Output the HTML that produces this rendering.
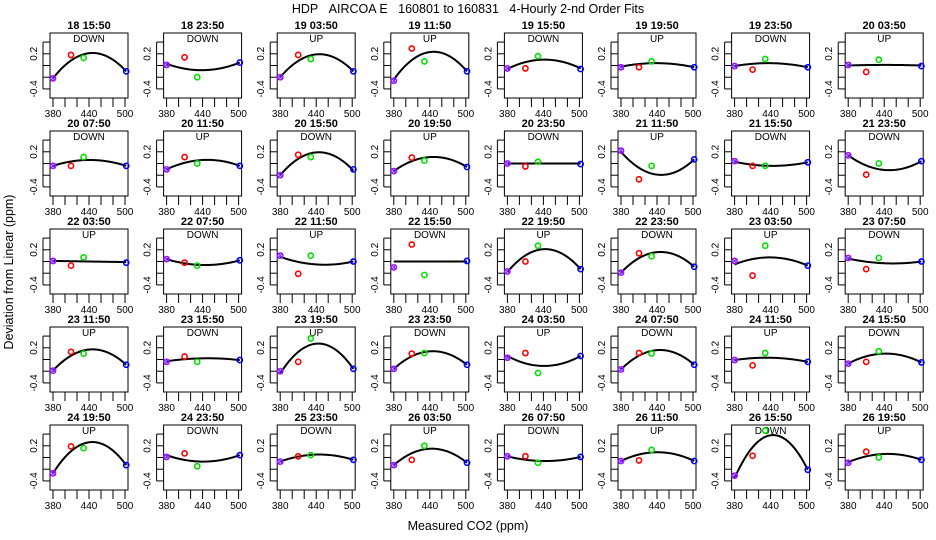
<!DOCTYPE html>
<html><head><meta charset="utf-8"><style>
html,body{margin:0;padding:0;background:#fff;}
svg{display:block;font-family:"Liberation Sans",sans-serif;}
</style></head><body>
<svg id="chart" width="936" height="540" viewBox="0 0 936 540">
<text x="468" y="13" text-anchor="middle" font-size="12.5">HDP&#160;&#160;&#160;AIRCOA E&#160;&#160;&#160;160801 to 160831&#160;&#160;&#160;4-Hourly 2-nd Order Fits</text>
<text x="0" y="0" transform="translate(13,272) rotate(-90)" text-anchor="middle" font-size="12.5">Deviation from Linear (ppm)</text>
<text x="468" y="530" text-anchor="middle" font-size="12.5">Measured CO2 (ppm)</text>
<g id="panels"></g>
</svg>
<script>
const titles = ["18 15:50","18 23:50","19 03:50","19 11:50","19 15:50","19 19:50","19 23:50","20 03:50",
"20 07:50","20 11:50","20 15:50","20 19:50","20 23:50","21 11:50","21 15:50","21 23:50",
"22 03:50","22 07:50","22 11:50","22 15:50","22 19:50","22 23:50","23 03:50","23 07:50",
"23 11:50","23 15:50","23 19:50","23 23:50","24 03:50","24 07:50","24 11:50","24 15:50",
"24 19:50","24 23:50","25 23:50","26 03:50","26 07:50","26 11:50","26 15:50","26 19:50"];
const directions = ["DOWN","DOWN","UP","UP","DOWN","UP","DOWN","UP",
"DOWN","UP","DOWN","UP","DOWN","UP","DOWN","DOWN",
"UP","DOWN","UP","DOWN","UP","DOWN","UP","DOWN",
"UP","DOWN","UP","DOWN","UP","DOWN","UP","DOWN",
"UP","DOWN","DOWN","UP","DOWN","UP","DOWN","UP"];
const co2Levels = [380, 410, 431, 502];
const purpleVals = [-0.22,0.01,-0.2,-0.26,-0.05,-0.03,-0.01,0.01, -0.04,-0.1,-0.2,-0.13,0,0.22,0.04,0.14, 0.01,0.04,0.1,-0.1,-0.17,-0.19,0.01,0.06, -0.19,-0.04,-0.2,-0.16,0.03,-0.17,-0.01,-0.07, -0.27,0.01,-0.07,-0.13,0.02,-0.06,-0.31,-0.09];
const redVals = [0.18,0.14,0.18,0.29,-0.05,-0.03,-0.07,-0.11, -0.04,0.11,0.15,0.1,-0.05,-0.27,-0.04,-0.19, -0.07,-0.02,-0.21,0.29,0,0.14,-0.24,-0.13, 0.13,0.05,-0.04,0.1,0.11,0.11,-0.1,-0.04, 0.19,0.07,0.02,-0.04,0.02,-0.05,0.03,0.1];
const greenVals = [0.13,-0.2,0.11,0.07,0.16,0.07,0.11,0.1, 0.11,0,0.11,0.05,0.03,-0.04,-0.04,0, 0.07,-0.07,0.1,-0.23,0.27,0.09,0.27,0.06, 0.1,-0.04,0.36,0.11,-0.23,0.1,0.11,0.14, 0.16,-0.15,0.04,0.2,-0.09,0.13,0.46,0];
const blueVals = [-0.1,0.05,-0.1,-0.1,-0.06,-0.03,-0.03,-0.01, -0.04,-0.04,-0.1,-0.06,-0.01,0.07,0.02,0.04, -0.02,0.02,0,0.01,-0.13,-0.09,-0.07,0, -0.09,-0.01,-0.16,-0.09,0.06,-0.09,-0.04,-0.05, -0.13,0.04,-0.04,-0.09,0.01,-0.06,-0.21,-0.04];
const fitLeft = [-0.22,0.03,-0.2,-0.24,-0.06,-0.02,-0.01,0, -0.04,-0.1,-0.2,-0.13,0,0.2,0.03,0.14, 0.01,0.04,0.08,0,-0.18,-0.19,-0.05,0.05, -0.19,-0.03,-0.24,-0.16,0.06,-0.17,-0.01,-0.07, -0.27,0.04,-0.07,-0.13,0.02,-0.06,-0.35,-0.08];
const fitMid = [0.21,-0.08,0.19,0.23,0.1,0.04,0.04,0.01, 0.06,0.06,0.19,0.11,0,-0.19,-0.04,-0.11, 0,-0.06,-0.05,0,0.21,0.16,0.07,-0.03, 0.17,0.02,0.27,0.14,-0.11,0.16,0.03,0.1, 0.26,-0.07,0.05,0.15,-0.06,0.09,0.38,0.06];
const fitRight = [-0.1,0.05,-0.1,-0.1,-0.05,-0.03,-0.03,0, -0.04,-0.04,-0.12,-0.06,0,0.07,0.02,0.04, -0.01,0.02,0,0,-0.13,-0.09,-0.07,0, -0.09,-0.01,-0.16,-0.09,0.06,-0.09,-0.04,-0.05, -0.13,0.04,-0.04,-0.09,0.01,-0.06,-0.21,-0.04];
const yTicks = [-0.4,-0.2,0,0.2,0.4];
const yTickLabels = ["-0.4","","","0.2",""];
const xTicks = [380,400,420,440,460,480,500];
const xTickLabels = ["380","","","440","","","500"];

const NS = "http://www.w3.org/2000/svg";
const g = document.getElementById("panels");
const PW = 78, PH = 65, X0 = 50, Y0 = 33, DX = 113.6, DY = 98;
const XMIN = 375, XMAX = 505, YMIN = -0.555, YMAX = 0.555;
function mk(tag, attrs, parent){ const e=document.createElementNS(NS,tag); for(const k in attrs) e.setAttribute(k,attrs[k]); parent.appendChild(e); return e; }

for (let i = 0; i < titles.length; i++) {
  const r = Math.floor(i/8), c = i%8;
  const bx = X0 + c*DX, by = Y0 + r*DY;
  const sx = v => bx + (v - XMIN)/(XMAX - XMIN)*PW;
  const sy = v => by + (YMAX - v)/(YMAX - YMIN)*PH;
  const pg = mk("g", {}, g);
  
  
  const box = mk("rect", {x:bx, y:by, width:PW, height:PH, fill:"none", stroke:"#000", "stroke-width":1}, pg);
  
  
  const t = mk("text", {x:bx+PW/2, y:by-4, "text-anchor":"middle", "font-size":11, "font-weight":"bold"}, pg);
  t.textContent = titles[i];
  
  
  const d = mk("text", {x:bx+PW/2, y:by+9, "text-anchor":"middle", "font-size":10}, pg);
  d.textContent = directions[i];
  
  
  // y axis
  yTicks.forEach((v, k) => {
    const y = sy(v);
    const tl = mk("line", {x1:bx-7, x2:bx, y1:y, y2:y, stroke:"#000", "stroke-width":1}, pg);
    
    
    if (yTickLabels[k]) {
      const lt = mk("text", {transform:`translate(${bx-13},${y}) rotate(-90)`, "text-anchor":"middle", "font-size":10}, pg);
      lt.textContent = yTickLabels[k];
      
      
    }
  });
  const ya = mk("line", {x1:bx-7, x2:bx-7, y1:sy(0.4), y2:sy(-0.4), stroke:"#000", "stroke-width":1}, pg);
  
  
  // x axis
  xTicks.forEach((v, k) => {
    const x = sx(v);
    const tl = mk("line", {x1:x, x2:x, y1:by+PH, y2:by+PH+9, stroke:"#000", "stroke-width":1}, pg);
    
    
    if (xTickLabels[k]) {
      const lt = mk("text", {x:x, y:by+PH+19, "text-anchor":"middle", "font-size":10}, pg);
      lt.textContent = xTickLabels[k];
      
      
    }
  });
  // fit curve: quadratic through (xa,L),(440,M),(xb,R)
  const xa = co2Levels[0], xm = 440, xb = co2Levels[3];
  const L = fitLeft[i], M = fitMid[i], R = fitRight[i];
  const q = x => L*(x-xm)*(x-xb)/((xa-xm)*(xa-xb)) + M*(x-xa)*(x-xb)/((xm-xa)*(xm-xb)) + R*(x-xa)*(x-xm)/((xb-xa)*(xb-xm));
  let pd = "";
  for (let s = 0; s <= 60; s++) {
    const x = xa + (xb-xa)*s/60;
    const y = Math.max(YMIN, Math.min(YMAX, q(x)));
    pd += (s ? "L" : "M") + sx(x).toFixed(2) + "," + sy(y).toFixed(2);
  }
  const cv = mk("path", {d:pd, fill:"none", stroke:"#000", "stroke-width":2}, pg);
  
  
  const series = [[purpleVals,"#d000ff",0],[redVals,"#ff0000",1],[greenVals,"#00e000",2],[blueVals,"#0000ff",3]];
  series.forEach(([vals,col,k]) => {
    const cx = sx(co2Levels[k]), cy = sy(vals[i]);
    const p = mk("circle", {cx:cx, cy:cy, r:2.6, fill:"none", stroke:col, "stroke-width":1.6}, pg);
    
    
    if (k === 0) {
      const xx = mk("path", {d:`M${cx-2.5},${cy-2.5}L${cx+2.5},${cy+2.5}M${cx-2.5},${cy+2.5}L${cx+2.5},${cy-2.5}`, stroke:"#4040ff", "stroke-width":1}, pg);
      
      
    }
  });
}
</script>
</body></html>
